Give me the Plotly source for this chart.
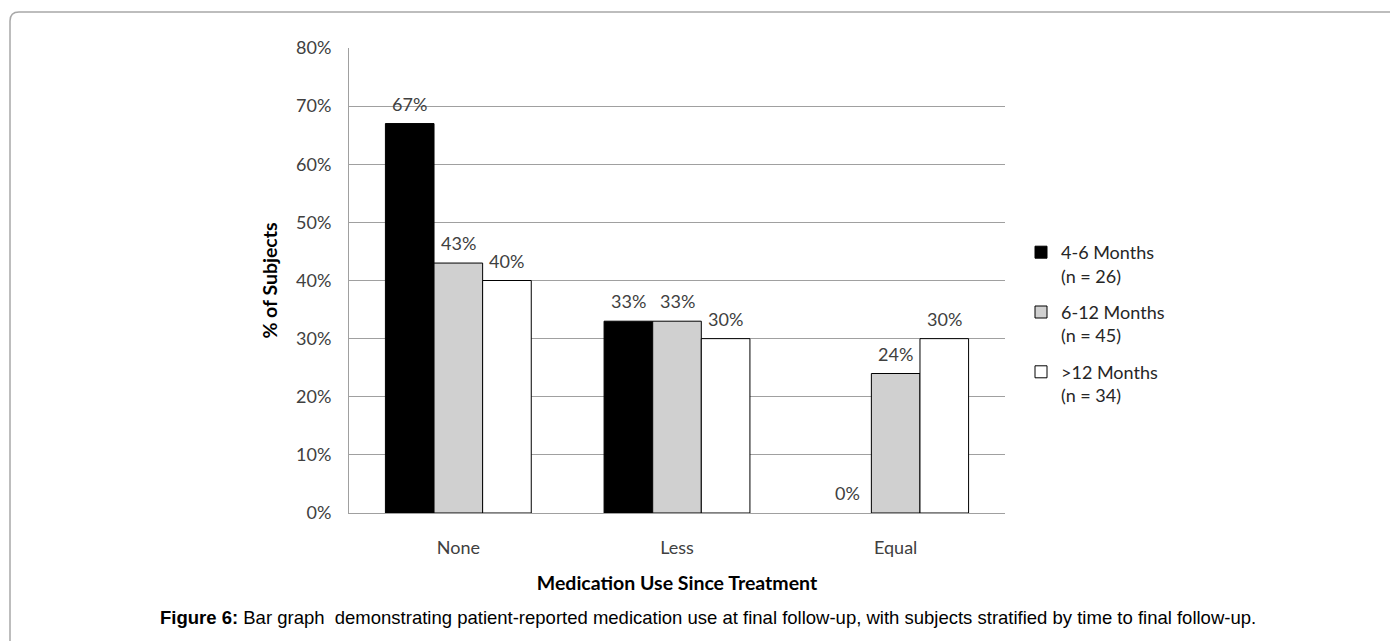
import plotly.graph_objects as go

categories = ["None", "Less", "Equal"]
series_names = ["4-6 Months<br>(n = 26)", "6-12 Months<br>(n = 45)", ">12 Months<br>(n = 34)"]
values_4_6 = [67, 33, 0]
values_6_12 = [43, 33, 24]
values_12_plus = [40, 30, 30]
y_ticks = [0, 10, 20, 30, 40, 50, 60, 70, 80]
y_tick_labels = [f"{v}%" for v in y_ticks]
colors = ["#000000", "#D0D0D0", "#FFFFFF"]

FONT = "Lato"
OFF = 8  # default page body margin
W, H = 1398, 641
PL, PT, PR, PB = 349, 48, 1005, 513  # plot area in screen pixels
pw, ph = PR - PL, PB - PT
L, T = PL - OFF, PT - OFF
R = W - L - pw
B = H - T - ph

BARGAP = 0.333
cat_px = pw / len(categories)
bar_px = cat_px * (1 - BARGAP) / 3

fig = go.Figure()
all_series = [values_4_6, values_6_12, values_12_plus]
for i, (name, vals) in enumerate(zip(series_names, all_series)):
    fig.add_trace(go.Bar(
        x=categories, y=vals, name=name,
        marker=dict(color=colors[i],
                    line=dict(color="#000000",
                              width=[1 if v > 0 else 0 for v in vals])),
        legendgroup=f"g{i}",
    ))
    for c, v in zip(categories, vals):
        fig.add_annotation(
            x=c, y=v, text=f"{v}%", showarrow=False,
            xshift=(i - 1) * bar_px, yshift=20,
            xanchor="center", yanchor="middle",
            font=dict(family=FONT, size=18, color="#404040"))

def px2x(p):
    return (p - PL) / pw

def px2y(p):
    return (PB - p) / ph

# outer rounded frame
x0, y0 = px2x(10), px2y(12)
x1, y1 = px2x(1410), px2y(660)
rx, ry = 9 / pw, 9 / ph
path = (f"M {x0},{y1} L {x0},{y0 - ry} Q {x0},{y0} {x0 + rx},{y0} "
        f"L {x1},{y0}")
fig.add_shape(type="path", path=path, xref="paper", yref="paper",
              line=dict(color="#A8A8A8", width=1.5))

fig.add_annotation(
    text="<b>Figure 6:</b> Bar graph  demonstrating patient-reported medication use at final follow-up, with subjects stratified by time to final follow-up.",
    xref="paper", yref="paper", x=px2x(708), y=px2y(617), showarrow=False,
    xanchor="center", yanchor="middle",
    font=dict(family="Liberation Sans", size=18.5, color="#000000"))

fig.update_layout(
    width=W, height=H,
    margin=dict(l=L, r=R, t=T, b=B, autoexpand=False),
    paper_bgcolor="white", plot_bgcolor="white",
    barmode="group", bargap=BARGAP, bargroupgap=0,
    showlegend=True,
    legend=dict(x=px2x(1021), y=px2y(234), xanchor="left", yanchor="top",
                font=dict(family=FONT, size=18, color="#262626"),
                valign="top", tracegroupgap=10, traceorder="grouped",
                bgcolor="rgba(0,0,0,0)"),
    xaxis=dict(
        showgrid=False, showline=True, linecolor="#A0A0A0", linewidth=1,
        ticks="", ticklabelstandoff=18,
        tickfont=dict(family=FONT, size=18, color="#404040"),
        title=dict(text="<b>Medication Use Since Treatment</b>", standoff=19,
                   font=dict(family=FONT, size=19.5, color="#000000")),
    ),
    yaxis=dict(
        range=[0, 80], tickvals=y_ticks, ticktext=y_tick_labels,
        showgrid=True, gridcolor="#A0A0A0", gridwidth=1,
        showline=True, linecolor="#A0A0A0", linewidth=1,
        ticks="", ticklabelstandoff=13, zeroline=False,
        tickfont=dict(family=FONT, size=18, color="#404040"),
        title=dict(text="<b>% of Subjects</b>", standoff=13,
                   font=dict(family=FONT, size=19.5, color="#000000")),
    ),
)

fig.write_html("out.html")
